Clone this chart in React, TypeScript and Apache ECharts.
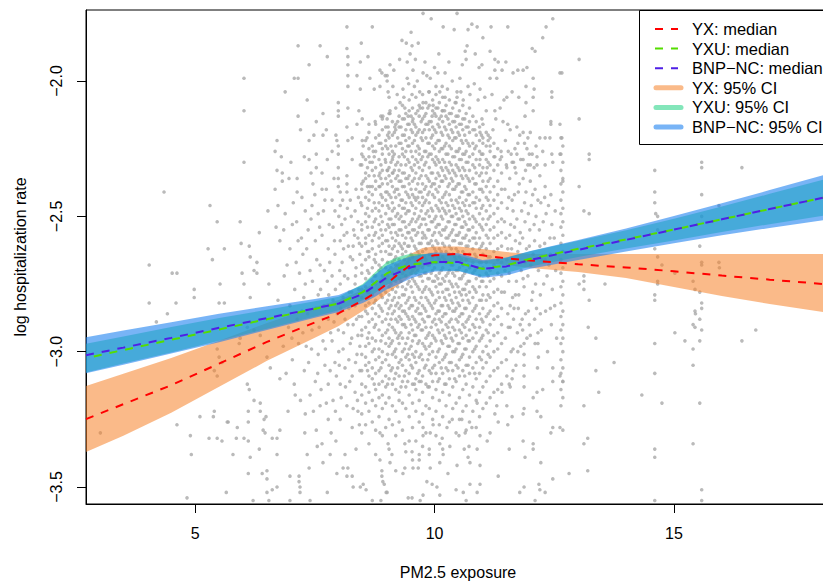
import React, { useEffect, useRef } from "react";
import * as echarts from "echarts";

const FONT = "'Liberation Sans', Arial, Helvetica, sans-serif";

// axis ranges and ticks
const X_MIN = 2.72;
const X_MAX = 18.26;
const Y_MIN = -3.5628;
const Y_MAX = -1.7377;
const xTicks = [5, 10, 15];
const yTicks = [-3.5, -3.0, -2.5, -2.0];

// curve grid (PM2.5)
const xGrid = [2.72, 3.5, 4.5, 5.5, 6.5, 7.5, 8, 8.5, 8.75, 9, 9.25, 9.5, 9.75, 10, 10.5, 11, 11.5, 12, 13, 14, 15, 16, 17, 18.26];

// YX
const yxMedian = [-3.249, -3.194, -3.124, -3.044, -2.964, -2.892, -2.858, -2.811, -2.784, -2.750, -2.712, -2.680, -2.652, -2.644, -2.638, -2.644, -2.655, -2.663, -2.677, -2.689, -2.703, -2.719, -2.734, -2.752];
const yxLower = [-3.371, -3.311, -3.226, -3.130, -3.034, -2.949, -2.905, -2.850, -2.820, -2.787, -2.754, -2.720, -2.687, -2.676, -2.669, -2.672, -2.680, -2.691, -2.706, -2.728, -2.761, -2.794, -2.824, -2.857];
const yxUpper = [-3.127, -3.082, -3.023, -2.960, -2.894, -2.835, -2.809, -2.772, -2.746, -2.713, -2.672, -2.639, -2.617, -2.611, -2.611, -2.621, -2.632, -2.639, -2.639, -2.639, -2.639, -2.639, -2.639, -2.639];

// YXU
const yxuMedian = [-3.024, -2.994, -2.956, -2.918, -2.880, -2.842, -2.822, -2.780, -2.746, -2.711, -2.692, -2.678, -2.674, -2.669, -2.673, -2.694, -2.681, -2.657, -2.620, -2.585, -2.549, -2.511, -2.473, -2.426];
const yxuLower = [-3.077, -3.044, -3.003, -2.960, -2.915, -2.870, -2.847, -2.810, -2.784, -2.753, -2.735, -2.718, -2.709, -2.700, -2.701, -2.722, -2.709, -2.685, -2.650, -2.619, -2.589, -2.558, -2.529, -2.494];
const yxuUpper = [-2.971, -2.944, -2.909, -2.876, -2.845, -2.814, -2.797, -2.750, -2.708, -2.669, -2.649, -2.638, -2.639, -2.638, -2.645, -2.666, -2.653, -2.629, -2.590, -2.551, -2.509, -2.464, -2.417, -2.358];

// BNP-NC
const bnpMedian = [-3.013, -2.985, -2.949, -2.912, -2.876, -2.840, -2.822, -2.787, -2.757, -2.726, -2.707, -2.689, -2.678, -2.669, -2.669, -2.694, -2.685, -2.661, -2.624, -2.587, -2.549, -2.511, -2.473, -2.426];
const bnpLower = [-3.080, -3.048, -3.007, -2.965, -2.920, -2.875, -2.853, -2.820, -2.798, -2.770, -2.751, -2.730, -2.715, -2.704, -2.702, -2.727, -2.718, -2.694, -2.661, -2.630, -2.599, -2.570, -2.543, -2.511];
const bnpUpper = [-2.947, -2.922, -2.891, -2.860, -2.832, -2.805, -2.791, -2.754, -2.716, -2.682, -2.663, -2.648, -2.641, -2.634, -2.636, -2.661, -2.652, -2.628, -2.587, -2.545, -2.499, -2.452, -2.403, -2.341];

// observations (PM2.5, log rate)
const leftPts = [[4.35,-2.41],[4.04,-2.68],[4.04,-2.82],[4.62,-2.71],[4.52,-2.71],[4.42,-2.86],[4.60,-2.82],[4.19,-2.89],[4.62,-3.27],[3.02,-3.30],[4.90,-3.31],[5.31,-2.46],[5.46,-2.52],[5.27,-2.62],[5.36,-2.66],[5.61,-2.62],[5.94,-2.52],[6.02,-2.30],[5.96,-2.60],[5.98,-2.71],[5.52,-2.75],[4.98,-2.77],[4.98,-2.80],[5.50,-2.82],[5.61,-2.82],[6.13,-2.61],[6.15,-2.65],[6.34,-2.56],[6.29,-2.67],[6.23,-2.70],[6.29,-2.71],[6.52,-2.48],[6.54,-2.75],[6.15,-2.80],[6.02,-2.75],[5.46,-2.99],[5.50,-3.02],[5.56,-3.04],[5.40,-3.07],[5.46,-3.09],[5.92,-2.97],[5.94,-2.95],[6.09,-2.91],[6.23,-2.92],[6.36,-2.94],[6.50,-3.02],[6.57,-3.06],[5.40,-3.22],[5.38,-3.24],[5.46,-3.32],[5.10,-3.24],[5.67,-3.26],[5.88,-3.28],[6.02,-3.32],[6.09,-3.12],[6.13,-3.14],[6.23,-3.18],[6.36,-3.22],[6.44,-3.25],[6.46,-3.30],[4.83,-3.54],[4.92,-3.38],[5.29,-3.32],[5.56,-3.33],[5.65,-3.52],[5.69,-3.26],[5.79,-3.38],[5.86,-3.32],[6.11,-3.45],[6.15,-3.39],[6.11,-3.33],[6.21,-3.55],[6.34,-3.36],[6.40,-3.45],[6.50,-3.44],[6.50,-3.47],[6.50,-3.52],[6.61,-3.51],[6.71,-3.50],[6.54,-3.55],[6.71,-3.38],[6.61,-3.32],[6.77,-3.29],[6.71,-3.32],[6.42,-3.29],[6.48,-3.24],[6.36,-3.19],[6.11,-3.22],[6.11,-3.26],[6.98,-3.46],[7.17,-3.46],[7.17,-3.48],[7.19,-3.50],[7.38,-3.43],[7.19,-3.52],[6.98,-3.55],[7.40,-3.55],[7.55,-3.35],[7.67,-3.41],[7.76,-3.52],[7.96,-3.45],[8.09,-3.43],[8.17,-3.46],[8.19,-3.43],[8.28,-3.46],[8.30,-3.50],[8.45,-3.50],[8.51,-3.49],[8.57,-3.51],[8.70,-3.55],[8.90,-3.44],[8.90,-3.46],[8.99,-3.52],[8.88,-3.55],[8.95,-3.49],[9.11,-3.38],[9.07,-3.41],[9.03,-3.34]];

const upperLeftPts = [[6.02,-1.99],[6.02,-2.11],[6.88,-2.04],[7.15,-1.87],[7.61,-1.87],[7.76,-1.91],[7.38,-1.94],[7.07,-1.99],[7.15,-1.99],[7.34,-2.07],[7.15,-2.13],[7.67,-2.12],[8.17,-1.80],[8.70,-1.80],[8.47,-1.86],[8.61,-1.91],[8.17,-1.88],[8.19,-1.91],[8.19,-1.94],[8.19,-1.98],[8.38,-1.98],[8.45,-1.93],[8.65,-1.99],[8.86,-1.96],[8.97,-1.98],[9.07,-1.94],[8.45,-2.03],[8.74,-2.03],[8.86,-2.02],[9.03,-2.04],[8.19,-2.02],[7.99,-2.08],[7.99,-2.11],[7.99,-2.13],[8.19,-2.10],[8.42,-2.11],[8.49,-2.14],[8.63,-2.16],[8.76,-2.15],[8.88,-2.13],[9.01,-2.14],[9.07,-2.11],[7.53,-2.15],[7.74,-2.18],[7.67,-2.20],[7.94,-2.20],[8.17,-2.17],[6.71,-2.22],[6.67,-2.26],[6.80,-2.28],[7.38,-2.22],[7.53,-2.27],[7.76,-2.29],[7.38,-2.29],[7.00,-2.30],[6.71,-2.33],[6.82,-2.34],[6.82,-2.37],[6.67,-2.40],[6.96,-2.36],[7.13,-2.36],[7.13,-2.41],[7.42,-2.34],[7.53,-2.32],[7.65,-2.34],[7.65,-2.40],[7.99,-2.32],[7.99,-2.36],[8.17,-2.35],[7.99,-2.39],[8.17,-2.38],[8.17,-2.41],[8.45,-2.31],[8.51,-2.28],[8.65,-2.30],[8.72,-2.26],[8.86,-2.34],[8.97,-2.29],[9.01,-2.33],[9.13,-2.28],[9.13,-2.34],[8.51,-2.37],[8.65,-2.39],[8.86,-2.39],[9.01,-2.41],[7.96,-2.22],[7.99,-2.24],[7.99,-2.27],[8.19,-2.22],[8.28,-2.21],[8.49,-2.22],[8.51,-2.24],[8.59,-2.21]];

const midLeftPts = [[6.73,-2.46],[6.88,-2.49],[7.03,-2.53],[6.77,-2.59],[6.98,-2.62],[7.11,-2.67],[6.86,-2.72],[6.73,-2.81],[6.98,-2.83],[7.13,-2.88],[6.84,-2.98],[7.03,-3.03],[6.77,-3.10],[7.09,-3.16],[6.94,-3.22],[7.15,-2.59],[6.69,-2.54],[7.23,-2.43],[7.30,-2.48],[7.44,-2.46],[7.57,-2.49],[7.71,-2.44],[7.36,-2.55],[7.51,-2.59],[7.65,-2.57],[7.78,-2.62],[7.25,-2.64],[7.40,-2.70],[7.61,-2.68],[7.76,-2.74],[7.30,-2.75],[7.57,-2.79],[7.23,-2.85],[7.44,-2.92],[7.67,-2.96],[7.78,-2.88],[7.32,-2.98],[7.57,-3.01],[7.71,-3.05],[7.28,-3.07],[7.51,-3.11],[7.78,-3.12],[7.40,-3.16],[7.61,-3.20],[7.30,-3.23],[7.78,-3.25],[7.53,-3.29],[7.65,-3.34],[7.34,-3.38],[7.82,-3.38],[7.46,-2.38],[7.74,-2.40],[7.86,-2.44],[7.92,-2.48],[8.03,-2.46],[8.13,-2.51],[8.24,-2.44],[8.34,-2.48],[8.40,-2.52],[7.88,-2.54],[8.03,-2.59],[8.17,-2.56],[8.30,-2.61],[8.40,-2.58],[7.92,-2.64],[8.07,-2.67],[8.24,-2.65],[8.36,-2.69],[7.86,-2.72],[8.03,-2.75],[8.19,-2.73],[8.34,-2.75],[8.13,-2.88],[8.30,-2.90],[7.99,-2.92],[8.40,-2.94],[7.86,-2.96],[8.09,-2.99],[8.24,-2.97],[8.38,-3.01],[7.92,-3.04],[8.13,-3.06],[8.28,-3.09],[8.03,-3.12],[8.34,-3.15],[7.88,-3.18],[8.17,-3.20],[8.40,-3.22],[8.03,-3.25],[8.28,-3.28],[7.94,-3.33],[8.36,-3.36],[8.13,-3.38],[7.88,-2.81],[8.34,-2.83],[8.03,-2.41],[8.36,-2.40],[8.09,-2.80],[8.21,-2.84],[7.97,-2.86],[8.27,-2.78],[8.42,-2.87],[8.00,-3.00],[8.44,-3.07],[8.21,-3.03],[8.10,-2.62],[8.44,-2.64],[8.46,-2.45],[8.06,-2.53],[8.31,-2.55]];

const midLeftPts2 = [[6.85,-2.55],[6.92,-2.68],[6.95,-2.91],[6.90,-3.08],[7.05,-2.45],[7.08,-2.77],[7.02,-2.95],[7.07,-3.12],[7.12,-2.52],[7.18,-2.71],[7.16,-2.97],[7.20,-3.18],[7.22,-2.58],[7.27,-2.80],[7.25,-2.93],[7.29,-3.30],[7.33,-2.62],[7.35,-2.86],[7.37,-3.04],[7.42,-2.51],[7.45,-2.74],[7.43,-2.99],[7.47,-3.22],[7.50,-2.42],[7.54,-2.66],[7.52,-2.84],[7.56,-3.08],[7.60,-2.54],[7.62,-2.77],[7.59,-2.91],[7.63,-3.14],[7.68,-2.48],[7.70,-2.70],[7.69,-2.83],[7.72,-2.99],[7.74,-3.19],[7.80,-2.53],[7.81,-2.67],[7.79,-2.79],[7.83,-2.93],[7.82,-3.07],[7.84,-3.30],[7.90,-2.36],[7.91,-2.59],[7.93,-2.77],[7.90,-2.89],[7.95,-3.09],[7.93,-3.22],[8.00,-2.50],[8.02,-2.70],[8.04,-2.84],[8.01,-3.05],[8.05,-3.17],[8.08,-2.44],[8.11,-2.57],[8.12,-2.72],[8.10,-2.93],[8.14,-3.13],[8.18,-2.47],[8.20,-2.61],[8.22,-2.78],[8.19,-2.90],[8.23,-3.11],[8.26,-2.50],[8.29,-2.66],[8.27,-2.95],[8.30,-3.21],[8.33,-2.57],[8.35,-2.72],[8.37,-2.88],[8.35,-3.04],[8.39,-3.18],[8.41,-2.43],[8.43,-2.60],[8.42,-2.77],[8.44,-2.98],[8.43,-3.27],[7.28,-2.28],[7.48,-2.20],[7.86,-2.26],[8.28,-2.29],[8.38,-2.16],[7.20,-2.18]];

const upperMidPts = [[9.76,-1.75],[9.93,-1.77],[10.47,-1.75],[10.18,-1.80],[10.41,-1.81],[10.70,-1.81],[10.78,-1.79],[10.89,-1.80],[11.18,-1.80],[11.53,-1.80],[12.33,-1.80],[12.47,-1.77],[12.26,-1.84],[9.51,-1.82],[9.32,-1.85],[9.41,-1.86],[9.53,-1.87],[9.66,-1.86],[9.49,-1.90],[9.43,-1.93],[10.09,-1.90],[10.68,-1.87],[10.64,-1.89],[10.66,-1.92],[11.01,-1.84],[11.16,-1.89],[12.04,-1.88],[12.10,-1.89],[13.02,-1.92],[13.02,-2.14],[13.23,-2.27],[13.23,-2.29],[13.02,-2.39],[12.68,-2.37],[12.66,-1.97],[12.62,-1.97],[12.45,-2.04],[12.45,-2.06],[12.62,-2.16],[12.66,-2.21],[12.62,-2.27],[12.45,-2.27],[12.47,-2.30],[12.43,-2.16],[12.43,-2.15],[12.41,-2.21],[12.31,-2.21],[12.20,-2.21],[11.89,-2.13],[12.06,-2.11],[12.06,-2.06],[12.08,-2.03],[12.06,-1.99],[11.93,-1.95],[11.85,-1.96],[11.74,-1.96],[11.64,-1.97],[11.91,-2.02],[11.91,-2.08],[11.76,-2.06],[11.62,-2.04],[11.51,-2.06],[11.45,-2.07],[11.37,-2.10],[11.26,-2.11],[11.28,-2.14],[11.43,-2.15],[11.53,-2.16],[11.72,-2.17],[11.85,-2.19],[12.00,-2.19],[11.95,-2.21],[12.12,-2.24],[12.26,-2.26],[11.93,-2.25],[12.04,-2.27],[12.14,-2.28],[12.31,-2.31],[12.14,-2.31],[11.72,-2.27],[11.85,-2.29],[12.00,-2.31],[11.62,-2.30],[11.68,-2.32],[11.37,-2.29],[11.51,-2.32],[11.39,-2.26],[11.16,-2.24],[11.26,-2.28],[11.10,-2.32],[10.95,-2.29],[11.01,-2.23],[10.95,-2.19],[11.12,-2.20],[11.22,-2.18],[10.99,-2.14],[11.08,-2.11],[10.91,-2.07],[10.95,-2.03],[10.99,-1.94],[10.93,-1.95],[11.26,-1.92],[11.33,-1.93],[11.49,-1.93],[11.41,-1.96],[11.26,-1.96],[11.30,-1.99],[11.16,-1.99],[10.70,-2.02],[10.74,-2.05],[10.60,-2.07],[10.53,-1.99],[10.37,-2.00],[10.22,-1.97],[10.07,-1.97],[10.16,-2.02],[10.11,-2.04],[10.22,-2.06],[10.47,-2.04],[10.47,-2.06],[10.43,-2.08],[9.91,-1.99],[9.84,-1.98],[9.76,-1.97],[9.64,-2.00],[9.55,-1.96],[9.43,-1.99],[9.34,-2.03],[9.53,-2.05],[9.36,-2.06],[9.28,-2.08],[9.13,-2.02],[9.01,-2.00],[9.01,-1.98],[8.90,-1.97],[9.76,-2.08],[9.97,-2.09],[9.70,-2.10],[10.16,-2.11],[9.95,-2.13],[9.38,-2.10],[9.45,-2.13],[9.55,-2.14],[8.92,-2.13],[9.07,-2.12],[9.03,-2.17],[9.17,-2.17],[9.05,-2.06],[9.15,-1.96],[9.22,-2.05],[9.27,-1.92],[9.46,-2.01],[9.58,-2.02],[9.60,-1.92],[9.69,-2.04],[9.80,-1.93],[9.88,-2.04],[10.00,-1.95],[10.03,-2.02],[10.27,-2.03],[10.30,-1.93],[10.55,-2.04],[10.58,-1.94],[10.83,-2.01],[10.85,-1.90],[11.05,-2.06],[11.20,-2.05]];

const rightPts = [[11.48,-2.22],[11.50,-2.31],[11.47,-2.40],[11.52,-2.47],[11.49,-2.58],[11.51,-2.66],[11.46,-2.78],[11.53,-2.86],[11.48,-2.95],[11.50,-3.03],[11.58,-2.18],[11.60,-2.27],[11.57,-2.36],[11.62,-2.44],[11.59,-2.53],[11.61,-2.62],[11.56,-2.71],[11.63,-2.80],[11.58,-2.91],[11.60,-3.00],[11.62,-3.10],[11.68,-2.25],[11.70,-2.34],[11.67,-2.42],[11.72,-2.51],[11.69,-2.59],[11.71,-2.74],[11.66,-2.84],[11.73,-2.93],[11.70,-3.05],[11.78,-2.20],[11.80,-2.29],[11.77,-2.38],[11.82,-2.48],[11.79,-2.56],[11.81,-2.70],[11.76,-2.79],[11.83,-2.88],[11.80,-2.98],[11.88,-2.23],[11.90,-2.33],[11.91,-2.41],[11.89,-2.52],[11.92,-2.62],[11.87,-2.76],[11.90,-2.86],[11.93,-2.95],[11.98,-2.27],[12.00,-2.37],[12.02,-2.46],[11.99,-2.55],[12.01,-2.68],[12.03,-2.81],[11.98,-2.90],[12.08,-2.32],[12.10,-2.40],[12.12,-2.50],[12.09,-2.59],[12.11,-2.75],[12.13,-2.84],[12.10,-2.97],[12.20,-2.35],[12.22,-2.45],[12.19,-2.55],[12.24,-2.66],[12.21,-2.79],[12.23,-2.92],[12.31,-2.39],[12.33,-2.49],[12.30,-2.60],[12.35,-2.72],[12.32,-2.85],[12.36,-3.00],[12.43,-2.42],[12.45,-2.53],[12.42,-2.64],[12.46,-2.77],[12.44,-2.90],[12.47,-3.06],[11.87,-2.97],[11.87,-3.01],[11.87,-3.05],[11.87,-3.09],[11.87,-3.13],[12.16,-2.93],[12.16,-2.97],[12.17,-3.02],[12.15,-3.06],[11.54,-2.26],[11.55,-2.43],[11.53,-2.62],[11.55,-2.74],[11.54,-2.91],[11.65,-2.30],[11.64,-2.48],[11.66,-2.66],[11.65,-2.88],[11.64,-2.99],[11.74,-2.23],[11.75,-2.41],[11.74,-2.63],[11.75,-2.84],[11.74,-3.00],[11.85,-2.36],[11.84,-2.58],[11.85,-2.73],[11.84,-2.92],[11.95,-2.31],[11.96,-2.49],[11.95,-2.72],[11.96,-2.85],[12.05,-2.42],[12.06,-2.64],[12.05,-2.78],[12.16,-2.44],[12.17,-2.70],[12.27,-2.52],[12.28,-2.75],[12.38,-2.46],[12.39,-2.68],[12.50,-2.58],[12.51,-2.83],[11.46,-2.52],[11.47,-2.70],[11.57,-2.57],[11.58,-2.83],[11.67,-2.54],[11.69,-2.79],[11.78,-2.60],[11.79,-2.90],[11.88,-2.45],[11.89,-2.67],[11.98,-2.61],[12.00,-2.94],[12.08,-2.53],[12.09,-2.88],[12.20,-2.61],[12.21,-2.86],[12.30,-2.43],[12.31,-2.66],[12.41,-2.58],[12.42,-2.84],[12.52,-2.48],[12.53,-2.70],[12.55,-2.95]];

const lowerPts = [[12.81,-3.45],[12.47,-3.47],[12.18,-3.49],[12.20,-3.51],[12.31,-3.52],[12.10,-3.55],[11.78,-3.52],[11.87,-3.50],[11.89,-3.39],[12.06,-3.34],[12.06,-3.36],[11.85,-3.33],[12.22,-3.41],[11.56,-3.36],[11.33,-3.46],[10.95,-3.49],[10.74,-3.49],[10.89,-3.52],[10.60,-3.52],[10.45,-3.51],[10.66,-3.55],[10.11,-3.53],[10.05,-3.50],[9.95,-3.49],[9.84,-3.48],[9.76,-3.53],[9.70,-3.55],[9.53,-3.54],[9.45,-3.54],[9.01,-3.52],[8.92,-3.48],[9.34,-3.45],[9.38,-3.43],[9.55,-3.43],[9.66,-3.43],[9.91,-3.43],[10.11,-3.41],[10.28,-3.45],[10.47,-3.42],[10.70,-3.39],[10.74,-3.41],[10.95,-3.42],[10.72,-3.35],[10.62,-3.36],[10.95,-3.31],[11.10,-3.33],[11.16,-3.30],[10.89,-3.36],[10.51,-3.31],[9.68,-3.38],[9.68,-3.40],[9.53,-3.37],[8.86,-3.40],[8.86,-3.30],[9.38,-3.34],[9.47,-3.33],[9.89,-3.36],[10.18,-3.38],[10.11,-3.34],[10.16,-3.32],[10.32,-3.35],[9.91,-3.30],[9.76,-3.31],[9.76,-3.28],[9.97,-3.27],[10.26,-3.28],[10.37,-3.25],[10.57,-3.25],[10.64,-3.30],[10.78,-3.28],[10.89,-3.19],[11.30,-3.20],[11.26,-3.23],[11.51,-3.20],[11.53,-3.27],[11.33,-3.26],[11.51,-3.09],[11.41,-3.15],[11.62,-3.24],[11.85,-3.23],[11.87,-3.21],[12.14,-3.22],[12.22,-3.24],[11.56,-3.12],[11.58,-3.13],[11.64,-3.07],[12.06,-3.17],[12.14,-3.15],[12.26,-3.14],[12.47,-3.11],[12.62,-3.09],[12.68,-3.11],[12.47,-3.28],[12.62,-3.28],[12.43,-3.30],[12.68,-3.29]];

const farRightPts = [[13.12,-2.48],[13.23,-2.49],[14.60,-2.33],[14.60,-2.41],[14.60,-2.45],[14.62,-2.49],[14.66,-2.50],[14.66,-2.55],[14.60,-2.62],[14.66,-2.65],[14.75,-2.68],[14.66,-2.74],[14.66,-2.75],[14.60,-2.79],[14.60,-2.81],[15.02,-2.71],[15.58,-2.30],[15.58,-2.32],[15.58,-2.42],[15.58,-2.50],[15.54,-2.61],[15.58,-2.67],[15.58,-2.68],[15.40,-2.74],[15.54,-2.78],[15.44,-2.77],[15.58,-2.82],[15.58,-2.84],[15.44,-2.85],[15.45,-2.86],[15.54,-2.88],[15.40,-2.90],[15.44,-2.91],[15.58,-2.92],[15.54,-2.96],[15.40,-2.99],[15.94,-2.46],[15.94,-2.67],[15.95,-2.69],[16.42,-2.32],[16.42,-2.96],[16.71,-2.92],[15.23,-2.96],[15.02,-2.93],[13.56,-2.75],[13.37,-2.95],[13.21,-2.91],[13.12,-2.72],[13.12,-2.74],[13.02,-2.75],[13.12,-2.77],[13.23,-2.81],[13.75,-3.04],[13.37,-3.07],[13.43,-3.15],[13.12,-3.20],[13.20,-3.32],[13.12,-3.34],[13.20,-3.44],[14.60,-2.97],[14.60,-3.08],[14.33,-3.16],[14.75,-3.19],[14.60,-3.36],[14.60,-3.39],[14.60,-3.55],[15.40,-3.05],[15.54,-3.19],[15.40,-3.34],[15.58,-3.51],[15.58,-3.55],[15.58,-2.23]];

// dense centre of the cloud, as vertical streaks: [PM2.5, [log rates]]
const coreColumns: [number, number[]][] = [
  [8.48, [-2.27,-2.31,-2.38,-2.40,-2.46,-2.53,-2.55,-2.61,-2.68,-2.71,-2.77,-2.80,-2.87,-2.92,-2.94,-3.01,-3.07,-3.12,-3.16,-3.23,-3.30]],
  [8.56, [-2.22,-2.29,-2.34,-2.36,-2.43,-2.49,-2.52,-2.58,-2.60,-2.66,-2.73,-2.76,-2.83,-2.85,-2.91,-2.98,-3.02,-3.05,-3.13,-3.19,-3.27]],
  [8.63, [-2.19,-2.25,-2.28,-2.35,-2.41,-2.44,-2.50,-2.57,-2.63,-2.65,-2.71,-2.78,-2.82,-2.89,-2.93,-2.97,-3.04,-3.09,-3.15,-3.22,-3.34]],
  [8.70, [-2.24,-2.30,-2.33,-2.39,-2.42,-2.48,-2.54,-2.59,-2.62,-2.69,-2.74,-2.79,-2.84,-2.88,-2.95,-3.00,-3.06,-3.10,-3.18,-3.26]],
  [8.77, [-2.16,-2.21,-2.26,-2.32,-2.37,-2.40,-2.47,-2.51,-2.56,-2.64,-2.67,-2.72,-2.75,-2.81,-2.86,-2.90,-2.96,-3.03,-3.08,-3.14,-3.20,-3.29,-3.38]],
  [8.84, [-2.20,-2.23,-2.29,-2.35,-2.39,-2.45,-2.48,-2.53,-2.58,-2.61,-2.68,-2.70,-2.77,-2.83,-2.87,-2.92,-2.99,-3.02,-3.07,-3.12,-3.17,-3.24]],
  [8.91, [-2.14,-2.18,-2.25,-2.27,-2.33,-2.38,-2.43,-2.46,-2.52,-2.57,-2.60,-2.66,-2.72,-2.74,-2.80,-2.85,-2.89,-2.94,-3.00,-3.04,-3.11,-3.16,-3.21,-3.31]],
  [8.98, [-2.17,-2.22,-2.24,-2.30,-2.36,-2.41,-2.44,-2.49,-2.55,-2.59,-2.63,-2.69,-2.73,-2.78,-2.82,-2.88,-2.93,-2.97,-3.03,-3.09,-3.13,-3.19,-3.28]],
  [9.05, [-2.12,-2.19,-2.21,-2.27,-2.32,-2.35,-2.42,-2.47,-2.51,-2.54,-2.61,-2.64,-2.70,-2.76,-2.79,-2.84,-2.90,-2.95,-2.98,-3.05,-3.10,-3.17,-3.25,-3.36]],
  [9.12, [-2.15,-2.20,-2.26,-2.29,-2.34,-2.39,-2.45,-2.48,-2.53,-2.58,-2.62,-2.67,-2.71,-2.77,-2.81,-2.86,-2.91,-2.96,-3.01,-3.06,-3.12,-3.20,-3.27]],
  [9.19, [-2.10,-2.16,-2.18,-2.24,-2.31,-2.36,-2.40,-2.43,-2.50,-2.56,-2.59,-2.65,-2.68,-2.74,-2.78,-2.83,-2.88,-2.93,-2.99,-3.02,-3.08,-3.14,-3.22,-3.31,-3.44]],
  [9.26, [-2.13,-2.17,-2.23,-2.28,-2.33,-2.37,-2.42,-2.46,-2.51,-2.55,-2.60,-2.66,-2.70,-2.73,-2.80,-2.84,-2.87,-2.94,-2.97,-3.04,-3.09,-3.15,-3.18,-3.26]],
  [9.33, [-2.09,-2.14,-2.20,-2.25,-2.27,-2.34,-2.39,-2.44,-2.47,-2.52,-2.57,-2.62,-2.64,-2.71,-2.76,-2.79,-2.85,-2.90,-2.95,-3.00,-3.05,-3.11,-3.19,-3.29]],
  [9.40, [-2.12,-2.18,-2.22,-2.26,-2.31,-2.36,-2.41,-2.45,-2.49,-2.54,-2.58,-2.63,-2.68,-2.72,-2.77,-2.82,-2.86,-2.91,-2.97,-3.02,-3.07,-3.13,-3.21,-3.37]],
  [9.47, [-2.07,-2.11,-2.16,-2.21,-2.24,-2.30,-2.35,-2.38,-2.43,-2.48,-2.53,-2.56,-2.61,-2.66,-2.69,-2.74,-2.80,-2.84,-2.88,-2.93,-2.99,-3.03,-3.08,-3.16,-3.24]],
  [9.54, [-2.10,-2.15,-2.19,-2.23,-2.28,-2.33,-2.37,-2.42,-2.46,-2.51,-2.55,-2.59,-2.65,-2.70,-2.73,-2.78,-2.83,-2.87,-2.92,-2.96,-3.01,-3.06,-3.12,-3.19,-3.28,-3.40]],
  [9.61, [-2.06,-2.12,-2.17,-2.20,-2.26,-2.29,-2.34,-2.40,-2.44,-2.47,-2.52,-2.57,-2.62,-2.67,-2.71,-2.75,-2.81,-2.85,-2.89,-2.94,-3.00,-3.04,-3.10,-3.14,-3.22,-3.33]],
  [9.68, [-2.09,-2.13,-2.18,-2.25,-2.27,-2.32,-2.36,-2.41,-2.45,-2.50,-2.54,-2.60,-2.64,-2.68,-2.72,-2.77,-2.82,-2.86,-2.90,-2.96,-3.02,-3.07,-3.11,-3.18,-3.26]],
  [9.75, [-2.05,-2.10,-2.14,-2.19,-2.22,-2.28,-2.33,-2.38,-2.43,-2.46,-2.51,-2.56,-2.58,-2.63,-2.69,-2.74,-2.78,-2.83,-2.88,-2.92,-2.97,-3.03,-3.09,-3.15,-3.23,-3.35]],
  [9.82, [-2.08,-2.12,-2.16,-2.21,-2.26,-2.30,-2.35,-2.39,-2.44,-2.49,-2.53,-2.58,-2.62,-2.66,-2.71,-2.76,-2.80,-2.85,-2.91,-2.95,-2.99,-3.05,-3.12,-3.20,-3.30]],
  [9.89, [-2.04,-2.09,-2.15,-2.18,-2.23,-2.27,-2.32,-2.37,-2.41,-2.45,-2.50,-2.55,-2.60,-2.64,-2.68,-2.73,-2.77,-2.82,-2.87,-2.93,-2.98,-3.01,-3.07,-3.13,-3.21,-3.38]],
  [9.96, [-2.07,-2.11,-2.17,-2.20,-2.24,-2.29,-2.34,-2.38,-2.42,-2.48,-2.52,-2.57,-2.61,-2.65,-2.70,-2.74,-2.79,-2.84,-2.89,-2.94,-3.00,-3.06,-3.11,-3.17,-3.25]],
  [10.03, [-2.05,-2.10,-2.13,-2.19,-2.23,-2.28,-2.31,-2.36,-2.40,-2.46,-2.50,-2.54,-2.59,-2.63,-2.67,-2.72,-2.76,-2.81,-2.86,-2.90,-2.96,-3.02,-3.08,-3.14,-3.22,-3.31]],
  [10.10, [-2.08,-2.14,-2.17,-2.22,-2.26,-2.30,-2.35,-2.39,-2.44,-2.48,-2.53,-2.56,-2.62,-2.66,-2.71,-2.75,-2.80,-2.85,-2.88,-2.93,-2.99,-3.04,-3.10,-3.18,-3.27]],
  [10.17, [-2.06,-2.11,-2.15,-2.20,-2.25,-2.29,-2.33,-2.37,-2.43,-2.47,-2.51,-2.55,-2.60,-2.65,-2.69,-2.73,-2.78,-2.83,-2.87,-2.92,-2.97,-3.03,-3.08,-3.15,-3.24,-3.36]],
  [10.24, [-2.09,-2.13,-2.18,-2.23,-2.27,-2.32,-2.36,-2.41,-2.45,-2.49,-2.54,-2.58,-2.63,-2.67,-2.72,-2.77,-2.81,-2.86,-2.90,-2.95,-3.01,-3.06,-3.12,-3.20]],
  [10.31, [-2.07,-2.12,-2.16,-2.21,-2.24,-2.30,-2.34,-2.38,-2.42,-2.48,-2.52,-2.57,-2.61,-2.64,-2.70,-2.74,-2.79,-2.84,-2.89,-2.93,-2.98,-3.04,-3.10,-3.16,-3.26]],
  [10.38, [-2.10,-2.15,-2.19,-2.22,-2.28,-2.33,-2.37,-2.40,-2.46,-2.50,-2.55,-2.59,-2.64,-2.68,-2.71,-2.76,-2.82,-2.85,-2.91,-2.96,-3.00,-3.07,-3.13,-3.21]],
  [10.45, [-2.08,-2.13,-2.17,-2.21,-2.26,-2.31,-2.35,-2.39,-2.44,-2.49,-2.53,-2.57,-2.62,-2.66,-2.70,-2.75,-2.80,-2.84,-2.88,-2.94,-2.99,-3.05,-3.11,-3.19,-3.30]],
  [10.52, [-2.11,-2.16,-2.20,-2.25,-2.29,-2.33,-2.38,-2.43,-2.47,-2.51,-2.56,-2.60,-2.65,-2.69,-2.73,-2.78,-2.83,-2.87,-2.92,-2.97,-3.03,-3.09,-3.17,-3.25]],
  [10.59, [-2.09,-2.14,-2.18,-2.23,-2.27,-2.32,-2.36,-2.41,-2.45,-2.50,-2.54,-2.58,-2.63,-2.68,-2.72,-2.77,-2.81,-2.86,-2.90,-2.95,-3.01,-3.07,-3.14,-3.22]],
  [10.66, [-2.12,-2.17,-2.22,-2.26,-2.30,-2.35,-2.40,-2.44,-2.48,-2.53,-2.57,-2.61,-2.66,-2.70,-2.75,-2.79,-2.84,-2.89,-2.94,-2.99,-3.05,-3.12,-3.20,-3.29]],
  [10.73, [-2.10,-2.15,-2.19,-2.24,-2.28,-2.33,-2.37,-2.42,-2.46,-2.51,-2.55,-2.59,-2.64,-2.69,-2.74,-2.78,-2.82,-2.87,-2.92,-2.96,-3.02,-3.08,-3.16,-3.26]],
  [10.80, [-2.13,-2.18,-2.23,-2.27,-2.31,-2.36,-2.41,-2.45,-2.50,-2.54,-2.58,-2.62,-2.67,-2.71,-2.76,-2.80,-2.85,-2.90,-2.95,-3.00,-3.06,-3.13,-3.22]],
  [10.87, [-2.15,-2.20,-2.24,-2.29,-2.34,-2.38,-2.43,-2.47,-2.52,-2.56,-2.60,-2.65,-2.69,-2.73,-2.78,-2.83,-2.88,-2.93,-2.98,-3.04,-3.10,-3.18,-3.28]],
  [10.94, [-2.17,-2.22,-2.26,-2.31,-2.35,-2.40,-2.44,-2.49,-2.53,-2.58,-2.62,-2.67,-2.72,-2.76,-2.81,-2.86,-2.91,-2.96,-3.02,-3.08,-3.15,-3.24]],
  [11.01, [-2.16,-2.21,-2.27,-2.32,-2.37,-2.41,-2.46,-2.51,-2.55,-2.60,-2.64,-2.69,-2.74,-2.79,-2.84,-2.89,-2.94,-3.00,-3.06,-3.13,-3.21]],
  [11.08, [-2.19,-2.24,-2.29,-2.34,-2.39,-2.43,-2.48,-2.53,-2.57,-2.62,-2.67,-2.71,-2.76,-2.81,-2.87,-2.92,-2.98,-3.04,-3.11,-3.19]],
  [11.16, [-2.21,-2.26,-2.31,-2.36,-2.41,-2.46,-2.50,-2.55,-2.60,-2.65,-2.70,-2.74,-2.80,-2.85,-2.90,-2.96,-3.02,-3.09,-3.17]],
  [11.24, [-2.23,-2.28,-2.33,-2.39,-2.44,-2.49,-2.54,-2.58,-2.63,-2.68,-2.73,-2.78,-2.83,-2.88,-2.94,-3.00,-3.07,-3.15]],
  [11.32, [-2.25,-2.31,-2.37,-2.42,-2.47,-2.52,-2.57,-2.62,-2.66,-2.71,-2.77,-2.82,-2.87,-2.93,-2.99,-3.06,-3.14]],
  [11.40, [-2.28,-2.34,-2.40,-2.45,-2.51,-2.56,-2.61,-2.67,-2.72,-2.78,-2.84,-2.90,-2.97,-3.04,-3.12]],
  [12.64, [-2.21,-2.27,-2.33,-2.38,-2.44,-2.49,-2.54,-2.60,-2.66,-2.71,-2.76,-2.82,-2.87,-2.92,-2.97,-3.03,-3.08,-3.14,-3.20]],
  [12.68, [-2.24,-2.30,-2.36,-2.41,-2.47,-2.52,-2.57,-2.63,-2.69,-2.74,-2.79,-2.85,-2.90,-2.95,-3.00,-3.06,-3.11,-3.17]],
];

// second set of streaks in the densest part of the cloud
const coreColumns2: [number, number[]][] = [
  [8.60, [-2.32,-2.39,-2.47,-2.54,-2.63,-2.70,-2.78,-2.86,-2.95,-3.07]],
  [8.74, [-2.28,-2.35,-2.45,-2.52,-2.57,-2.66,-2.72,-2.82,-2.91,-2.99,-3.12]],
  [8.88, [-2.23,-2.31,-2.36,-2.42,-2.50,-2.55,-2.63,-2.69,-2.79,-2.84,-2.96,-3.06]],
  [9.02, [-2.20,-2.25,-2.33,-2.38,-2.46,-2.53,-2.59,-2.67,-2.72,-2.81,-2.86,-2.92,-3.01,-3.12]],
  [9.09, [-2.24,-2.30,-2.37,-2.43,-2.51,-2.56,-2.64,-2.69,-2.75,-2.83,-2.88,-2.97,-3.07]],
  [9.16, [-2.19,-2.27,-2.33,-2.41,-2.47,-2.53,-2.61,-2.66,-2.72,-2.80,-2.85,-2.92,-3.00,-3.10]],
  [9.23, [-2.15,-2.21,-2.30,-2.35,-2.40,-2.49,-2.57,-2.63,-2.68,-2.76,-2.82,-2.89,-2.95,-3.06]],
  [9.30, [-2.17,-2.23,-2.31,-2.37,-2.44,-2.50,-2.55,-2.61,-2.69,-2.74,-2.83,-2.88,-2.93,-3.03,-3.13]],
  [9.37, [-2.14,-2.20,-2.28,-2.34,-2.39,-2.47,-2.52,-2.60,-2.66,-2.70,-2.79,-2.85,-2.90,-2.99,-3.09]],
  [9.44, [-2.16,-2.24,-2.29,-2.36,-2.42,-2.48,-2.56,-2.61,-2.67,-2.75,-2.81,-2.87,-2.95,-3.01,-3.11]],
  [9.51, [-2.13,-2.18,-2.26,-2.32,-2.40,-2.45,-2.52,-2.58,-2.64,-2.71,-2.76,-2.83,-2.90,-2.98,-3.05]],
  [9.58, [-2.16,-2.22,-2.31,-2.36,-2.43,-2.49,-2.55,-2.61,-2.69,-2.74,-2.80,-2.88,-2.94,-3.02,-3.12]],
  [9.65, [-2.11,-2.19,-2.24,-2.30,-2.38,-2.43,-2.51,-2.56,-2.63,-2.70,-2.76,-2.84,-2.91,-2.97,-3.08]],
  [9.72, [-2.15,-2.21,-2.29,-2.35,-2.41,-2.48,-2.53,-2.60,-2.66,-2.72,-2.80,-2.86,-2.92,-3.01,-3.11]],
  [9.79, [-2.13,-2.18,-2.26,-2.31,-2.40,-2.45,-2.51,-2.57,-2.65,-2.71,-2.77,-2.84,-2.89,-2.98,-3.06]],
  [9.86, [-2.10,-2.16,-2.23,-2.28,-2.36,-2.42,-2.48,-2.55,-2.60,-2.68,-2.73,-2.81,-2.87,-2.94,-3.03,-3.13]],
  [9.93, [-2.15,-2.21,-2.27,-2.34,-2.39,-2.47,-2.52,-2.59,-2.64,-2.71,-2.78,-2.83,-2.91,-2.97,-3.08]],
  [10.00, [-2.12,-2.18,-2.25,-2.30,-2.38,-2.43,-2.51,-2.56,-2.62,-2.69,-2.74,-2.82,-2.88,-2.95,-3.05]],
  [10.07, [-2.10,-2.16,-2.22,-2.29,-2.34,-2.41,-2.47,-2.53,-2.60,-2.65,-2.73,-2.78,-2.85,-2.92,-3.00,-3.11]],
  [10.14, [-2.13,-2.19,-2.25,-2.32,-2.37,-2.45,-2.50,-2.57,-2.63,-2.70,-2.75,-2.83,-2.89,-2.96,-3.06]],
  [10.21, [-2.11,-2.17,-2.24,-2.30,-2.35,-2.42,-2.48,-2.55,-2.61,-2.66,-2.74,-2.80,-2.86,-2.94,-3.02,-3.12]],
  [10.28, [-2.14,-2.20,-2.27,-2.33,-2.39,-2.46,-2.52,-2.58,-2.64,-2.71,-2.77,-2.83,-2.91,-2.98,-3.07]],
  [10.35, [-2.12,-2.18,-2.25,-2.31,-2.36,-2.44,-2.50,-2.56,-2.62,-2.68,-2.75,-2.81,-2.88,-2.95,-3.04]],
  [10.42, [-2.15,-2.21,-2.28,-2.34,-2.40,-2.47,-2.53,-2.59,-2.65,-2.72,-2.78,-2.85,-2.92,-3.00,-3.10]],
  [10.49, [-2.13,-2.19,-2.26,-2.32,-2.38,-2.45,-2.51,-2.57,-2.63,-2.70,-2.76,-2.82,-2.89,-2.97,-3.06]],
  [10.56, [-2.16,-2.22,-2.29,-2.35,-2.41,-2.48,-2.54,-2.60,-2.66,-2.73,-2.79,-2.86,-2.93,-3.02]],
  [10.63, [-2.14,-2.20,-2.27,-2.33,-2.39,-2.46,-2.52,-2.58,-2.64,-2.71,-2.77,-2.84,-2.91,-2.99,-3.09]],
  [10.70, [-2.17,-2.23,-2.30,-2.36,-2.42,-2.49,-2.55,-2.61,-2.68,-2.74,-2.81,-2.88,-2.96,-3.05]],
  [10.84, [-2.18,-2.25,-2.32,-2.38,-2.45,-2.51,-2.58,-2.64,-2.70,-2.77,-2.84,-2.91,-2.99,-3.08]],
  [10.98, [-2.20,-2.27,-2.34,-2.40,-2.47,-2.54,-2.61,-2.67,-2.74,-2.81,-2.88,-2.95,-3.03]],
  [11.12, [-2.22,-2.30,-2.37,-2.44,-2.51,-2.58,-2.65,-2.72,-2.79,-2.86,-2.93,-3.01]],
];

const legendItems = [
  { label: "YX: median", kind: "median", color: "#ff0000" },
  { label: "YXU: median", kind: "median", color: "#55dd00" },
  { label: "BNP\u2212NC: median", kind: "median", color: "#4f1fe6" },
  { label: "YX: 95% CI", kind: "ci", color: "rgba(245,130,40,0.55)" },
  { label: "YXU: 95% CI", kind: "ci", color: "rgba(30,210,130,0.55)" },
  { label: "BNP\u2212NC: 95% CI", kind: "ci", color: "rgba(30,130,240,0.6)" },
];

function bandSeries(name: string, lower: number[], upper: number[], fill: string, z: number) {
  return {
    type: "custom",
    name,
    silent: true,
    z,
    clip: false,
    data: [[xGrid[0], lower[0]]],
    renderItem: (_p: any, api: any) => {
      const pts: number[][] = [];
      for (let i = 0; i < xGrid.length; i++) pts.push(api.coord([xGrid[i], upper[i]]));
      for (let i = xGrid.length - 1; i >= 0; i--) pts.push(api.coord([xGrid[i], lower[i]]));
      return { type: "polygon", shape: { points: pts }, style: { fill, stroke: "none" } };
    },
  };
}

function lineSeries(name: string, vals: number[], color: string, z: number, offset: number) {
  return {
    type: "line",
    name,
    silent: true,
    z,
    symbol: "none",
    smooth: false,
    data: xGrid.map((x, i) => [x, vals[i]]),
    lineStyle: { color, width: 2, type: [8, 8], dashOffset: offset },
  };
}

export default function App() {
  const ref = useRef<HTMLDivElement>(null);
  useEffect(() => {
    if (!ref.current) return;
    const chart = echarts.init(ref.current, null, { renderer: "svg" });
    const scatterData: number[][] = [
      ...leftPts, ...upperLeftPts, ...midLeftPts, ...midLeftPts2, ...upperMidPts, ...rightPts, ...lowerPts, ...farRightPts,
      ...coreColumns.flatMap(([x, ys]) => ys.map((y) => [x, y])),
      ...coreColumns2.flatMap(([x, ys]) => ys.map((y) => [x, y])),
    ];
    const legendTop = 10;
    const legendLeft = 639;
    const rowH = 19.6;
    const graphics: any[] = [
      { type: "rect", z: 100, shape: { x: legendLeft + 0.5, y: legendTop + 0.5, width: 240, height: 134 }, style: { fill: "#fff", stroke: "#000", lineWidth: 1 } },
    ];
    legendItems.forEach((it, i) => {
      const y = legendTop + 19 + i * rowH;
      if (it.kind === "median") {
        graphics.push({ type: "line", z: 101, shape: { x1: 655, y1: y, x2: 678, y2: y }, style: { stroke: it.color, lineWidth: 2, lineDash: [8, 8] } });
      } else {
        graphics.push({ type: "line", z: 101, shape: { x1: 656, y1: y, x2: 681, y2: y }, style: { stroke: it.color, lineWidth: 5, lineCap: "round" } });
      }
      graphics.push({ type: "text", z: 101, x: 692, y, style: { text: it.label, fontSize: 16.5, fontFamily: FONT, fill: "#000", align: "left", verticalAlign: "middle" } });
    });

    chart.setOption({
      animation: false,
      backgroundColor: "#fff",
      textStyle: { fontFamily: FONT },
      grid: { left: 86, top: 10, right: -7, bottom: 80, show: true, borderColor: "#000", borderWidth: 1, containLabel: false, outerBoundsMode: "none" },
      xAxis: {
        type: "value", min: X_MIN, max: X_MAX,
        axisLine: { show: true, onZero: false, lineStyle: { color: "#000", width: 1 } },
        axisTick: { show: true, customValues: xTicks, length: 9, lineStyle: { color: "#000" } },
        axisLabel: { customValues: xTicks, margin: 21, fontSize: 16, color: "#000", fontFamily: FONT },
        splitLine: { show: false },
        name: "PM2.5 exposure", nameLocation: "middle", nameGap: 60,
        nameTextStyle: { fontSize: 16, color: "#000", fontFamily: FONT },
      },
      yAxis: {
        type: "value", min: Y_MIN, max: Y_MAX,
        axisLine: { show: true, onZero: false, lineStyle: { color: "#000", width: 1 } },
        axisTick: { show: true, customValues: yTicks, length: 9, lineStyle: { color: "#000" } },
        axisLabel: { customValues: yTicks, rotate: 90, margin: 22, fontSize: 16, color: "#000", fontFamily: FONT,
          formatter: (v: number) => v.toFixed(1).replace("-", "\u2212") },
        splitLine: { show: false },
        name: "log hospitalization rate", nameLocation: "middle", nameGap: 58,
        nameTextStyle: { fontSize: 16, color: "#000", fontFamily: FONT },
      },
      series: [
        { type: "scatter", name: "observations", silent: true, z: 1, symbol: "circle", symbolSize: 3.6, data: scatterData, itemStyle: { color: "#a9a9a9" } },
        bandSeries("YX: 95% CI", yxLower, yxUpper, "rgba(245,130,40,0.55)", 2),
        bandSeries("YXU: 95% CI", yxuLower, yxuUpper, "rgba(30,210,130,0.55)", 3),
        bandSeries("BNP-NC: 95% CI", bnpLower, bnpUpper, "rgba(30,130,240,0.6)", 4),
        lineSeries("YX: median", yxMedian, "#ff0000", 5, 0),
        lineSeries("YXU: median", yxuMedian, "#55dd00", 6, 8),
        lineSeries("BNP-NC: median", bnpMedian, "#4f1fe6", 7, 0),
      ],
      graphic: graphics,
    });
    return () => chart.dispose();
  }, []);
  return <div ref={ref} style={{ position: "absolute", left: 0, top: 0, width: 823, height: 584, overflow: "hidden", background: "#fff" }} />;
}
